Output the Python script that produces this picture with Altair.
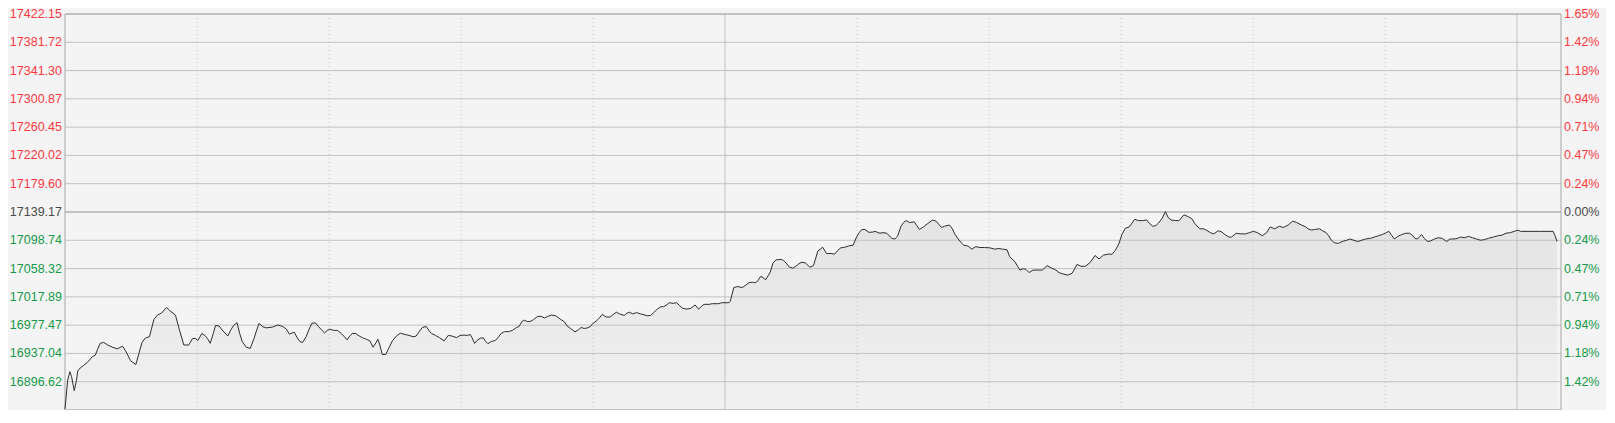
import altair as alt
import pandas as pd

prev_close = 17139.17
base_price = 16856.19

# gridline price levels (top -> bottom)
price_ticks = [17422.15, 17381.72, 17341.30, 17300.87, 17260.45, 17220.02, 17179.60,
               17139.17, 17098.74, 17058.32, 17017.89, 16977.47, 16937.04, 16896.62, 16856.19]
left_labels = ["17422.15", "17381.72", "17341.30", "17300.87", "17260.45", "17220.02", "17179.60",
               "17139.17", "17098.74", "17058.32", "17017.89", "16977.47", "16937.04", "16896.62"]
pct_labels = ["1.65%", "1.42%", "1.18%", "0.94%", "0.71%", "0.47%", "0.24%",
              "0.00%", "0.24%", "0.47%", "0.71%", "0.94%", "1.18%", "1.42%"]

# minutes from 09:30 (lunch break removed); 150 = 12:00/13:00, 330 = 16:00, 340 = 16:10
dotted_minutes = [30, 60, 90, 120, 180, 210, 240, 270, 300]
session_minutes = [150, 330]
border_minutes = [0, 340]

minutes = [
    0.0, 0.6, 1.1, 1.5, 2.1, 2.6, 2.9, 3.5, 4.2, 5.0,
    5.6, 6.2, 6.9, 7.4, 8.0, 8.8, 9.7, 10.9, 11.9, 13.1,
    13.9, 14.9, 16.1, 16.8, 17.5, 18.3, 19.2, 19.6, 20.2, 21.0,
    21.9, 23.1, 23.8, 25.1, 26.0, 27.0, 28.1, 29.0, 29.6, 30.2,
    31.1, 31.8, 32.4, 33.0, 33.7, 34.2, 35.0, 35.9, 37.0, 37.7,
    38.3, 39.1, 39.7, 40.3, 41.2, 42.1, 42.9, 43.5, 44.1, 45.0,
    45.7, 47.1, 48.4, 49.5, 50.3, 51.0, 52.1, 52.8, 53.4, 54.0,
    54.8, 55.5,
    56.1, 56.9, 57.6, 58.4, 59.0, 59.6, 60.2, 61.0, 61.9, 62.8,
    63.5, 64.1, 64.7, 65.3, 66.1, 66.9, 67.6, 68.5, 69.3, 70.0,
    70.5, 71.1, 71.5, 72.1, 72.9, 73.6, 74.4, 75.3, 76.2, 77.3,
    78.2, 79.1, 79.8, 80.4, 81.2, 82.1, 82.7, 83.3, 84.2, 85.1,
    86.2, 87.1, 88.0, 89.0, 89.8, 90.7, 91.4, 92.1, 92.5, 93.1,
    93.7, 94.5, 95.1, 95.5, 96.1, 96.9, 97.8, 98.4, 99.1, 99.9,
    100.8, 101.7, 102.6, 103.2, 103.8, 104.4, 105.2, 105.9, 106.5, 107.4,
    108.2, 109.0, 109.7, 110.6, 111.5, 112.1,
    112.7, 113.5, 114.1, 114.8, 115.9, 116.7, 117.3, 118.0, 118.8, 119.4,
    120.0, 120.7, 121.3, 122.1, 123.0, 123.9, 124.6, 125.3, 126.0, 127.1,
    127.7, 128.3, 129.0, 129.9, 130.8, 131.6, 132.3, 133.1, 133.9, 134.6,
    135.4, 136.1, 136.9, 137.3, 138.2, 139.0, 139.6, 140.3, 141.2, 142.2,
    143.2, 144.0, 144.6, 145.2, 146.4, 147.1, 148.6, 149.2, 150.9, 151.2,
    152.0, 152.9, 153.9, 154.7, 155.4, 156.2, 156.9, 157.5, 158.1, 158.8,
    159.2, 159.8, 160.3, 160.9, 161.6, 162.7, 163.3, 163.9, 164.6, 165.4,
    166.1, 166.8, 167.5, 168.3,
    169.3, 170.1, 170.5, 171.1, 172.2, 173.1, 174.1, 174.9, 175.5, 176.3,
    177.2, 178.1, 179.1, 179.9, 180.5, 181.1, 181.8, 182.7, 183.7, 184.1,
    185.2, 185.9, 186.8, 187.9, 188.6, 189.2, 190.0, 190.6, 191.2, 191.9,
    193.0, 193.6, 194.2, 195.1, 196.0, 196.8, 197.2, 198.0, 198.6, 199.2,
    199.9, 201.0, 201.6, 202.2, 203.0, 203.7, 204.3, 205.2, 206.1, 207.0,
    207.9, 209.0, 210.2, 211.3, 212.2, 213.1, 214.1, 214.7, 215.9, 216.5,
    217.0, 217.8, 218.4, 219.1, 220.0, 220.9, 222.1, 223.2, 224.3, 225.2,
    225.9, 226.8, 227.9, 228.9, 230.0, 230.9, 231.9, 233.0, 234.1, 235.0,
    236.0, 237.1, 238.0, 238.7, 239.5, 240.2, 241.0, 241.9, 242.5, 243.1,
    244.0, 244.9, 245.8, 246.4, 247.2, 247.9, 248.5, 249.3, 250.1, 250.7,
    251.4, 252.3, 253.2, 254.3, 255.3, 256.1, 256.8, 257.9, 258.8, 259.6,
    260.3, 261.1, 262.1, 262.9, 263.6, 264.5, 265.1, 266.2, 267.3, 268.3,
    269.2, 270.1, 271.0, 272.1, 273.1, 273.9, 274.9, 276.0, 276.9, 278.0,
    279.0, 279.9, 281.0, 282.0,
    282.5, 283.3, 284.0, 285.1, 285.8, 286.6, 287.2, 287.8, 288.5, 289.4,
    290.3, 291.3, 292.0, 292.9, 293.8, 294.7, 295.6, 296.7, 297.6, 298.5,
    299.4, 300.3, 300.9, 301.4, 302.1, 302.9, 303.8, 304.7, 305.6, 306.2,
    306.8, 307.4, 307.9, 308.3, 308.9, 309.7, 310.4, 311.2, 312.1, 313.0,
    313.6, 314.0, 314.8, 315.7, 316.5, 317.2, 318.0, 319.0, 319.9, 320.8,
    321.7, 322.6, 323.5, 324.6, 325.7, 326.6, 327.5, 328.5, 329.4, 330.2,
    330.8, 335.3, 338.2, 338.6, 339.1,
]

prices = [
    16857.6, 16898.4, 16911.0, 16903.8, 16883.8, 16898.4, 16912.0, 16916.5, 16919.7, 16923.8,
    16927.9, 16932.4, 16934.7, 16942.9, 16951.5, 16952.8, 16949.1, 16945.6, 16943.7, 16947.4,
    16939.2, 16926.6, 16921.1, 16936.9, 16952.8, 16959.2, 16961.0, 16970.9, 16985.5, 16991.9,
    16994.6, 17002.7, 16998.1, 16991.9, 16970.9, 16949.1, 16949.1, 16958.2, 16958.6, 16955.5,
    16965.5, 16962.7, 16958.2, 16951.5, 16965.5, 16976.9, 16976.4, 16969.1, 16961.9, 16970.9,
    16976.9, 16981.0, 16965.5, 16953.8, 16946.0, 16944.2, 16957.3, 16969.1, 16980.0, 16975.0,
    16973.6, 16974.6, 16977.7, 16975.5, 16971.9, 16964.6, 16967.4, 16959.2, 16953.8, 16952.8,
    16961.0, 16971.9,
    16980.0, 16980.9, 16975.5, 16970.0, 16966.4, 16970.0, 16971.8, 16970.0, 16970.0, 16965.5,
    16960.9, 16956.4, 16961.8, 16965.5, 16965.5, 16961.8, 16959.6, 16957.3, 16955.0, 16946.0,
    16950.5, 16957.3, 16950.5, 16935.5, 16935.5, 16944.6, 16955.0, 16961.8, 16965.9, 16964.1,
    16962.8, 16960.9, 16961.8, 16967.3, 16974.1, 16975.5, 16970.0, 16965.5, 16962.8, 16959.6,
    16955.0, 16962.8, 16961.8, 16959.6, 16962.8, 16963.2, 16962.8, 16964.1, 16959.6, 16951.4,
    16956.0, 16959.1, 16959.1, 16955.0, 16951.0, 16954.1, 16955.5, 16959.6, 16965.5, 16968.2,
    16968.2, 16970.0, 16974.1, 16975.5, 16982.3, 16984.5, 16982.3, 16983.2, 16985.4, 16990.0,
    16990.0, 16987.7, 16990.0, 16991.8, 16990.9, 16988.2,
    16985.4, 16982.3, 16976.4, 16973.2, 16967.8, 16970.9, 16974.1, 16972.7, 16973.6, 16975.5,
    16980.0, 16983.2, 16986.8, 16992.7, 16989.1, 16989.1, 16992.7, 16995.9, 16993.6, 16991.3,
    16994.5, 16995.9, 16993.6, 16995.4, 16993.6, 16992.2, 16990.9, 16991.3, 16995.9, 17000.4,
    17003.6, 17004.0, 17007.2, 17009.5, 17008.6, 17009.5, 17005.9, 17001.8, 17000.4, 17001.3,
    17006.3, 17000.4, 17004.0, 17007.2, 17007.2, 17008.1, 17008.1, 17009.5, 17009.5, 17011.7,
    17031.2, 17032.6, 17031.2, 17034.4, 17038.0, 17038.9, 17038.0, 17041.2, 17047.1, 17044.8,
    17042.1, 17048.0, 17053.5, 17066.2, 17070.7, 17071.6, 17069.8, 17066.2, 17060.7, 17058.9,
    17061.6, 17065.3, 17067.5, 17066.2,
    17060.3, 17062.5, 17070.7, 17083.4, 17088.8, 17079.8, 17079.8, 17078.9, 17083.4, 17087.9,
    17088.8, 17090.6, 17091.6, 17103.4, 17109.7, 17114.2, 17114.2, 17110.1, 17110.6, 17111.5,
    17108.8, 17109.7, 17108.8, 17101.5, 17100.6, 17104.3, 17118.8, 17124.2, 17126.9, 17124.2,
    17125.1, 17119.7, 17114.2, 17117.9, 17122.4, 17126.0, 17127.8, 17126.0, 17121.5, 17117.0,
    17118.8, 17120.6, 17116.0, 17107.9, 17100.6, 17095.2, 17091.6, 17090.6, 17086.1, 17089.7,
    17088.4, 17088.4, 17087.9, 17086.1, 17087.0, 17086.1, 17085.2, 17075.2, 17068.0, 17061.6,
    17056.2, 17058.0, 17057.1, 17052.6, 17056.2, 17056.2, 17056.2, 17062.5, 17058.9, 17056.2,
    17052.6, 17050.7, 17049.0, 17051.6, 17064.3, 17061.6, 17061.6, 17067.1, 17077.0, 17072.1,
    17077.5, 17078.9, 17078.9, 17084.3, 17093.4, 17107.0, 17116.0, 17117.9, 17123.3, 17128.7,
    17126.9, 17126.9, 17127.8, 17123.3, 17118.8, 17119.7, 17123.3, 17129.6, 17139.6, 17131.5,
    17127.8, 17126.9, 17126.9, 17135.1, 17132.4, 17129.6, 17122.4, 17115.1, 17115.1, 17112.4,
    17109.7, 17107.9, 17112.4, 17110.6, 17107.0, 17103.4, 17103.4, 17108.8, 17107.9, 17107.9,
    17109.7, 17111.5, 17109.7, 17105.2, 17109.7, 17117.9, 17115.1, 17118.8, 17117.0, 17120.6,
    17126.0, 17124.2, 17120.6, 17117.9,
    17115.1, 17113.3, 17114.2, 17115.1, 17112.4, 17109.7, 17105.2, 17098.8, 17095.2, 17094.3,
    17097.0, 17098.8, 17100.6, 17098.8, 17097.0, 17098.8, 17100.6, 17101.5, 17103.4, 17105.2,
    17107.0, 17109.7, 17111.5, 17107.0, 17100.6, 17104.3, 17107.0, 17108.8, 17108.8, 17106.1,
    17101.5, 17100.6, 17104.3, 17107.0, 17101.5, 17097.0, 17097.9, 17100.6, 17102.4, 17101.5,
    17098.8, 17097.0, 17100.6, 17100.6, 17101.5, 17103.4, 17102.4, 17104.3, 17102.4, 17100.6,
    17098.8, 17099.7, 17101.5, 17103.4, 17105.2, 17106.1, 17108.8, 17109.7, 17111.5, 17113.3,
    17111.5, 17111.5, 17111.5, 17106.1, 17097.0,
]

n = min(len(minutes), len(prices))
df = pd.DataFrame({"m": minutes[:n], "p": prices[:n]})

RED = "#fa3a3f"
GREEN = "#16994a"
GRAY = "#4a4a4a"
GRID = "#c2c2c2"
BORDER = "#a8a8a8"
FONT = "Liberation Sans"

W, H = 1496, 396
xs = alt.Scale(domain=[0, 340], nice=False, zero=False)
ys = alt.Scale(domain=[base_price, price_ticks[0]], nice=False, zero=False)

label_colors = [RED if p > prev_close + 0.01 else (GRAY if abs(p - prev_close) < 0.01 else GREEN)
                for p in price_ticks[:14]]
tick_df = pd.DataFrame({"p": price_ticks[:14], "left": left_labels, "pct": pct_labels, "c": label_colors})

grid_df = pd.DataFrame({
    "p": price_ticks,
    "w": [2 if i in (0, 7, 14) else 1 for i in range(len(price_ticks))],
})

area = alt.Chart(df).mark_area(
    color=alt.Gradient(
        gradient="linear",
        stops=[alt.GradientStop(color="#e3e3e3", offset=0),
               alt.GradientStop(color="#f1f1f1", offset=1)],
        x1=0, x2=0, y1=0, y2=1,
    )
).encode(
    x=alt.X("m:Q", scale=xs, axis=None),
    y=alt.Y("p:Q", scale=ys, axis=None),
    y2=alt.datum(base_price),
)

hgrid = alt.Chart(grid_df).mark_rule(color=GRID).encode(
    y=alt.Y("p:Q", scale=ys, axis=None),
    strokeWidth=alt.StrokeWidth("w:Q", scale=None, legend=None),
)

vdot = alt.Chart(pd.DataFrame({"m": dotted_minutes})).mark_rule(
    color=GRID, strokeDash=[1, 3], strokeWidth=1
).encode(x=alt.X("m:Q", scale=xs, axis=None))

vsolid = alt.Chart(pd.DataFrame({"m": session_minutes})).mark_rule(
    color=GRID, strokeWidth=1
).encode(x=alt.X("m:Q", scale=xs, axis=None))

vborder = alt.Chart(pd.DataFrame({"m": border_minutes})).mark_rule(
    color=BORDER, strokeWidth=1
).encode(x=alt.X("m:Q", scale=xs, axis=None))

line = alt.Chart(df).mark_line(color="#2e2e2e", strokeWidth=1).encode(
    x=alt.X("m:Q", scale=xs, axis=None),
    y=alt.Y("p:Q", scale=ys, axis=None),
)

ltext = alt.Chart(tick_df).mark_text(
    align="right", baseline="middle", font=FONT, fontSize=12.5
).encode(
    x=alt.value(-3),
    y=alt.Y("p:Q", scale=ys, axis=None),
    text="left:N",
    color=alt.Color("c:N", scale=None, legend=None),
)

rtext = alt.Chart(tick_df).mark_text(
    align="left", baseline="middle", font=FONT, fontSize=12.5
).encode(
    x=alt.value(W + 3),
    y=alt.Y("p:Q", scale=ys, axis=None),
    text="pct:N",
    color=alt.Color("c:N", scale=None, legend=None),
)

chart = alt.layer(area, hgrid, vdot, vsolid, vborder, line, ltext, rtext).properties(
    width=W,
    height=H,
    autosize=alt.AutoSizeParams(type="none"),
    padding={"left": 57, "top": 6, "right": 45, "bottom": 0},
    background="#f4f4f4",
).configure_view(stroke=None, fill="#f4f4f4")

chart.save("out.html", embed_options={"renderer": "svg", "actions": False})
